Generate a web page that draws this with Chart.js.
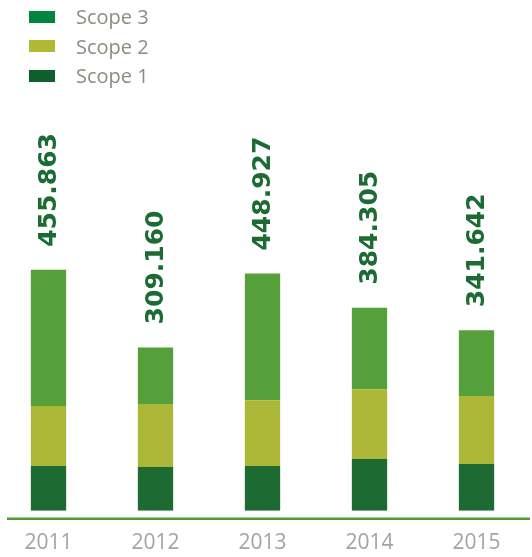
<!DOCTYPE html>
<html>
<head>
<meta charset="utf-8">
<script src="https://cdn.jsdelivr.net/npm/chart.js@4"></script>
<style>
    body { margin: 0; background: #fff; overflow: hidden; }
    #wrap { position: relative; width: 532px; height: 557px; overflow: hidden; }
    #chart { position: absolute; left: -5px; top: 0; }
    #legend { position: absolute; left: 29px; top: 2px; font-family: "Open Sans", sans-serif; font-size: 20px; color: #8c8c80; }
    .item { height: 29.5px; display: flex; align-items: center; }
    .box { width: 26px; height: 12px; margin-right: 21px; }
</style>
</head>
<body>
<div id="wrap">
    <canvas id="chart" width="535" height="557"></canvas>
    <div id="legend"></div>
</div>
<script>

const years = ["2011", "2012", "2013", "2014", "2015"];
const totals = [455.863, 309.160, 448.927, 384.305, 341.642];
const totalLabels = ["455.863", "309.160", "448.927", "384.305", "341.642"];

const scope1 = [84.9, 83.0, 84.9, 98.1, 88.7];
const scope2 = [113.2, 118.9, 124.5, 132.1, 128.3];
const scope3 = [257.8, 107.3, 239.5, 154.1, 124.6];

const legendItems = [
    { name: "Scope 3", color: "#00853e" },
    { name: "Scope 2", color: "#b0b935" },
    { name: "Scope 1", color: "#0f5f2d" }
];

const legend = document.getElementById("legend");
legendItems.forEach(it => {
    const row = document.createElement("div");
    row.className = "item";
    row.innerHTML = `<span class="box" style="background:${it.color}"></span><span>${it.name}</span>`;
    legend.appendChild(row);
});

// totals written above each bar, plus the ground line
const extras = {
    id: "extras",
    afterDatasetsDraw(chart) {
        const c = chart.ctx;
        const area = chart.chartArea;
        const top = chart.getDatasetMeta(2).data;

        c.save();
        c.strokeStyle = "#4f9a33";
        c.lineWidth = 2.5;
        c.beginPath();
        c.moveTo(area.left + 12, area.bottom + 8);
        c.lineTo(area.right + 5, area.bottom + 8);
        c.stroke();

        c.fillStyle = "#1b6b33";
        c.font = "bold 25px 'DejaVu Sans'";
        c.textAlign = "left";
        c.textBaseline = "middle";
        top.forEach((bar, i) => {
            c.save();
            c.translate(bar.x + 1, bar.y - 23);
            c.rotate(-Math.PI / 2);
            c.fillText(totalLabels[i], 0, 0);
            c.restore();
        });
        c.restore();
    }
};

new Chart(document.getElementById("chart"), {
    type: "bar",
    data: {
        labels: years,
        datasets: [
            { label: "Scope 1", data: scope1, backgroundColor: "#1d6a33" },
            { label: "Scope 2", data: scope2, backgroundColor: "#adb737" },
            { label: "Scope 3", data: scope3, backgroundColor: "#55a03a" }
        ]
    },
    options: {
        responsive: false,
        animation: false,
        layout: { padding: { top: 88, bottom: -19 } },
        datasets: { bar: { categoryPercentage: 1, barPercentage: 0.33 } },
        plugins: { legend: { display: false }, tooltip: { enabled: false } },
        scales: {
            x: {
                stacked: true,
                grid: { display: false, drawTicks: false },
                border: { display: false },
                ticks: { color: "#a3a3a3", font: { family: "Open Sans", size: 21 }, padding: 20 }
            },
            y: {
                stacked: true,
                display: false,
                min: 0,
                max: 800
            }
        }
    },
    plugins: [extras]
});

</script>
</body>
</html>
